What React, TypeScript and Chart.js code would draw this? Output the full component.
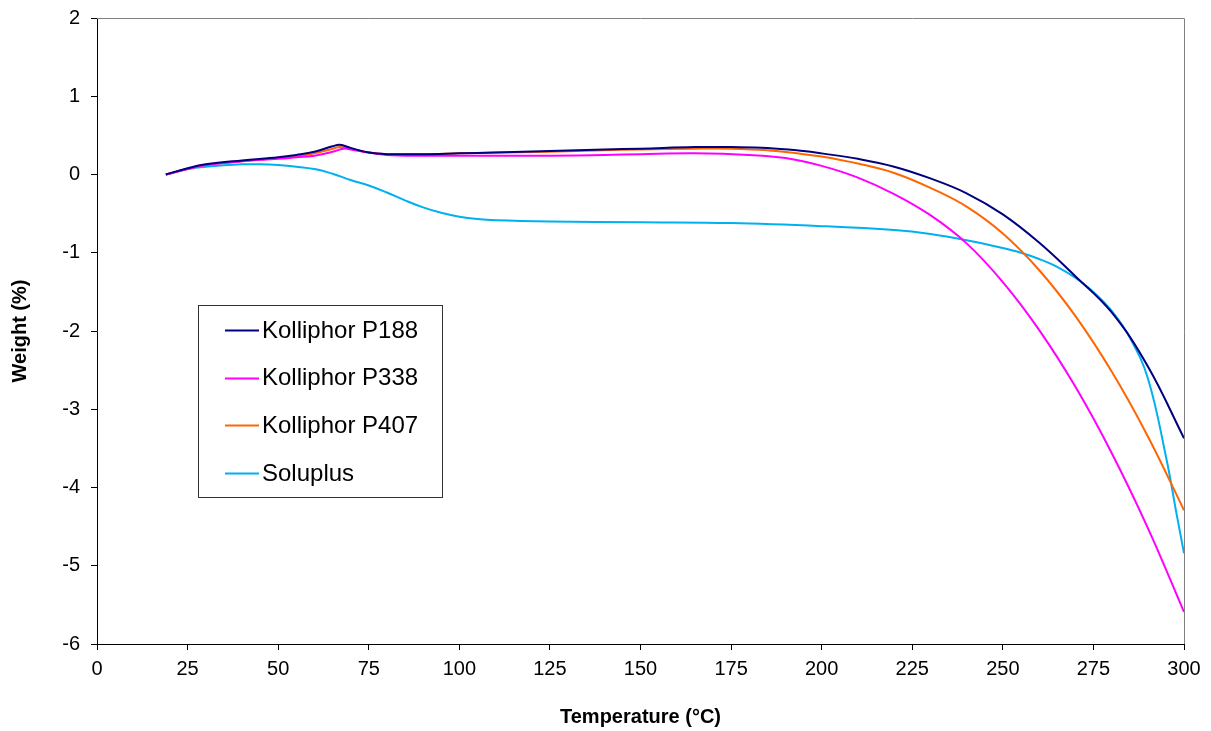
import { useEffect, useRef } from 'react';
import { Chart, registerables } from 'chart.js';

Chart.register(...registerables);

const FONT = '"Liberation Sans", Arial, Helvetica, sans-serif';

const seriesNames = ['Kolliphor P188', 'Kolliphor P338', 'Kolliphor P407', 'Soluplus'];
const seriesColors = ['#000080', '#FF00FF', '#FF6600', '#00B0F0'];

const xTickStep = 25;
const yTickStep = 1;

const p188Temp = [19, 25, 30, 40, 50, 55, 60, 65, 67, 70, 75, 80, 90, 100, 110, 125, 140, 150, 165, 175, 185, 195, 200, 210, 220, 230, 240, 250, 260, 270, 280, 290, 300];
const p188Weight = [0, 0.08, 0.13, 0.18, 0.22, 0.25, 0.29, 0.36, 0.38, 0.34, 0.28, 0.26, 0.26, 0.27, 0.28, 0.3, 0.32, 0.33, 0.35, 0.35, 0.34, 0.3, 0.27, 0.2, 0.1, -0.05, -0.24, -0.51, -0.87, -1.3, -1.76, -2.45, -3.37];

const p338Temp = [19, 25, 30, 40, 50, 55, 60, 65, 68, 70, 75, 80, 90, 100, 110, 125, 140, 150, 165, 180, 190, 200, 210, 220, 230, 240, 250, 260, 270, 280, 290, 300];
const p338Weight = [0, 0.07, 0.12, 0.17, 0.2, 0.22, 0.24, 0.29, 0.33, 0.32, 0.28, 0.25, 0.24, 0.24, 0.24, 0.24, 0.25, 0.26, 0.27, 0.25, 0.21, 0.11, -0.04, -0.25, -0.52, -0.88, -1.375, -1.985, -2.71, -3.555, -4.515, -5.59];

const p407Temp = [19, 25, 30, 40, 50, 55, 60, 65, 67, 70, 75, 80, 90, 100, 110, 125, 140, 150, 165, 175, 185, 195, 200, 210, 220, 230, 240, 250, 260, 270, 280, 290, 300];
const p407Weight = [0, 0.07, 0.12, 0.17, 0.21, 0.23, 0.27, 0.33, 0.35, 0.33, 0.28, 0.26, 0.26, 0.27, 0.28, 0.29, 0.31, 0.32, 0.33, 0.33, 0.31, 0.26, 0.23, 0.14, 0.02, -0.17, -0.41, -0.754, -1.22, -1.807, -2.515, -3.344, -4.29];

const soluplusTemp = [19, 25, 30, 40, 45, 50, 55, 60, 65, 70, 75, 80, 85, 90, 95, 100, 105, 110, 125, 150, 175, 200, 220, 230, 240, 250, 255, 260, 265, 270, 275, 280, 285, 290, 295, 298, 300];
const soluplusWeight = [0, 0.07, 0.1, 0.13, 0.13, 0.12, 0.1, 0.07, 0.01, -0.07, -0.14, -0.23, -0.33, -0.42, -0.49, -0.54, -0.57, -0.585, -0.6, -0.61, -0.62, -0.66, -0.71, -0.76, -0.84, -0.94, -1.0, -1.08, -1.18, -1.32, -1.5, -1.74, -2.08, -2.6, -3.6, -4.35, -4.84];

const seriesTemps = [p188Temp, p338Temp, p407Temp, soluplusTemp];
const seriesWeights = [p188Weight, p338Weight, p407Weight, soluplusWeight];

export default function App() {
  const ref = useRef<HTMLCanvasElement>(null);

  useEffect(() => {
    const canvas = ref.current;
    if (!canvas) return;

    const framePlugin = {
      id: 'frameAndLegend',
      afterDraw(chart: any) {
        const ctx = chart.ctx as CanvasRenderingContext2D;
        const { left, right, top, bottom } = chart.chartArea;
        ctx.save();
        ctx.strokeStyle = '#808080';
        ctx.lineWidth = 1;
        ctx.beginPath();
        ctx.moveTo(Math.round(left), Math.round(top) + 0.5);
        ctx.lineTo(Math.round(right) + 0.5, Math.round(top) + 0.5);
        ctx.lineTo(Math.round(right) + 0.5, Math.round(bottom));
        ctx.stroke();

        // legend box
        const bx = Math.round(left) + 101;
        const by = Math.round(top) + 287;
        const bw = 244;
        const bh = 192;
        ctx.fillStyle = '#ffffff';
        ctx.fillRect(bx, by, bw, bh);
        ctx.strokeStyle = '#333333';
        ctx.strokeRect(bx + 0.5, by + 0.5, bw, bh);
        ctx.font = '24px ' + FONT;
        ctx.textBaseline = 'middle';
        ctx.textAlign = 'left';
        chart.data.datasets.forEach((ds: any, i: number) => {
          const cy = by + 25 + i * 47.7;
          ctx.strokeStyle = ds.borderColor;
          ctx.lineWidth = 2;
          ctx.beginPath();
          ctx.moveTo(bx + 27, Math.round(cy) + 0.5);
          ctx.lineTo(bx + 61, Math.round(cy) + 0.5);
          ctx.stroke();
          ctx.fillStyle = '#000';
          ctx.fillText(ds.label, bx + 64, cy + 1);
        });
        ctx.restore();
      },
    };

    const chart = new Chart(canvas, {
      type: 'line',
      data: {
        datasets: seriesNames.map((name, i) => ({
          label: name,
          data: seriesTemps[i].map((t, j) => ({ x: t, y: seriesWeights[i][j] })),
          borderColor: seriesColors[i],
          backgroundColor: seriesColors[i],
          borderWidth: 2,
          pointRadius: 0,
          fill: false,
          tension: 0.4,
        })),
      },
      options: {
        responsive: false,
        animation: false,
        layout: { padding: { left: 0, top: 18, right: 27, bottom: 0 } },
        plugins: {
          legend: { display: false },
          tooltip: { enabled: false },
        },
        scales: {
          x: {
            type: 'linear',
            min: 0,
            max: 300,
            ticks: {
              stepSize: xTickStep,
              color: '#000',
              font: { family: FONT, size: 20 },
              padding: 7,
              maxRotation: 0,
              autoSkip: false,
            },
            grid: { drawOnChartArea: false, drawTicks: true, tickLength: 6, color: '#000' },
            border: { color: '#000', width: 1 },
            title: {
              display: true,
              text: 'Temperature (°C)',
              color: '#000',
              font: { family: FONT, size: 20, weight: 'bold' },
              padding: { top: 0, bottom: 2 },
            },
            afterFit(scale: any) {
              scale.height = 87;
              scale.paddingLeft = 0;
              scale.paddingRight = 0;
            },
          },
          y: {
            type: 'linear',
            min: -6,
            max: 2,
            ticks: {
              stepSize: yTickStep,
              color: '#000',
              font: { family: FONT, size: 20 },
              padding: 11,
            },
            grid: { drawOnChartArea: false, drawTicks: true, tickLength: 6, color: '#000' },
            border: { color: '#000', width: 1 },
            title: {
              display: true,
              text: 'Weight (%)',
              color: '#000',
              font: { family: FONT, size: 20, weight: 'bold' },
              padding: { top: 8, bottom: 0 },
            },
            afterFit(scale: any) {
              scale.width = 97;
              scale.paddingTop = 0;
              scale.paddingBottom = 0;
            },
          },
        },
      },
      plugins: [framePlugin],
    });

    return () => chart.destroy();
  }, []);

  return (
    <div style={{ position: 'fixed', left: 0, top: 0, width: 1211, height: 731, background: '#fff' }}>
      <canvas ref={ref} width={1211} height={731} style={{ width: 1211, height: 731, display: 'block' }} />
    </div>
  );
}
